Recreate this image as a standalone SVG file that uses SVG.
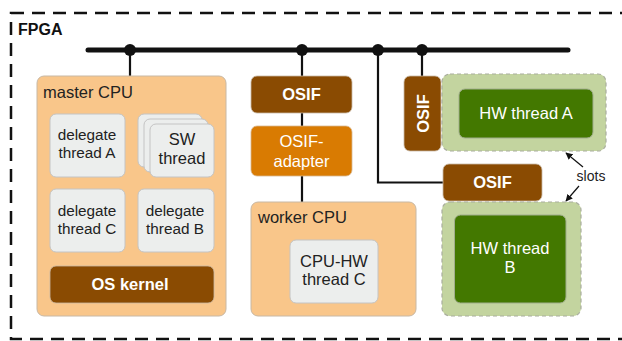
<svg xmlns="http://www.w3.org/2000/svg" width="622" height="341" viewBox="0 0 622 341">
<defs>
<style>
text{font-family:"Liberation Sans",Arial,sans-serif;}
.cpu{fill:#f9c68a;stroke:#c8b8a4;stroke-width:1;}
.lbl{font-size:16.5px;fill:#222;}
.thr{fill:#eceeed;stroke:#c4c4c4;stroke-width:1;}
.tt{font-size:15.3px;fill:#222;text-anchor:middle;}
.tb{font-size:16.5px;fill:#222;text-anchor:middle;}
.osif{fill:#8a4b02;stroke:#c8b8a4;stroke-width:0.8;}
.wb{font-size:16.5px;font-weight:bold;fill:#fff;text-anchor:middle;}
.slot{fill:#c3d49f;stroke:#a9ad9e;stroke-width:1.2;stroke-dasharray:4,3;}
.hw{fill:#437800;stroke:#a0ad8c;stroke-width:1;}
.wt{font-size:16.5px;fill:#fff;text-anchor:middle;}
.ln{stroke:#111;stroke-width:2.2;fill:none;}
</style>
<marker id="ah" viewBox="0 0 10 10" refX="9" refY="5" markerWidth="7" markerHeight="7" orient="auto-start-reverse" markerUnits="userSpaceOnUse">
<path d="M0,0 L10,5 L0,10 z" fill="#111"/>
</marker>
</defs>
<rect width="622" height="341" fill="#fff"/>
<g id="fpga">
<rect x="11" y="13" width="630" height="326" fill="none" stroke="#111" stroke-width="2.5" stroke-dasharray="13,8"/>
<text x="18" y="35" font-size="16" font-weight="bold" fill="#111">FPGA</text>
</g>
<g id="connectors">
<line x1="88" y1="50" x2="568" y2="50" stroke="#111" stroke-width="5" stroke-linecap="round"/>
<circle cx="130" cy="50" r="6" fill="#111"/>
<circle cx="302" cy="50" r="6" fill="#111"/>
<circle cx="378" cy="50" r="6" fill="#111"/>
<circle cx="422" cy="50" r="6" fill="#111"/>
<line class="ln" x1="130" y1="50" x2="130" y2="76"/>
<line class="ln" x1="302" y1="50" x2="302" y2="76"/>
<line class="ln" x1="302" y1="113" x2="302" y2="126"/>
<line class="ln" x1="302" y1="176" x2="302" y2="202"/>
<line class="ln" x1="422" y1="50" x2="422" y2="76"/>
<polyline class="ln" points="378,50 378,182.5 443,182.5"/>
<line x1="583" y1="167" x2="566" y2="153" stroke="#111" stroke-width="1.2" marker-end="url(#ah)"/>
<line x1="579" y1="186" x2="566" y2="201" stroke="#111" stroke-width="1.2" marker-end="url(#ah)"/>
</g>
<g id="master-cpu">
<rect class="cpu" x="37" y="76" width="189" height="240" rx="7"/>
<text class="lbl" x="43" y="98">master CPU</text>
</g>
<g id="delegate-a">
<rect class="thr" x="50" y="114" width="75" height="63" rx="6"/>
<text class="tt" x="87" y="140">delegate</text>
<text class="tt" x="87" y="158">thread A</text>
</g>
<g id="sw-thread">
<rect class="thr" x="138" y="114" width="64" height="53" rx="6"/>
<rect class="thr" x="144" y="119" width="64" height="53" rx="6"/>
<rect class="thr" x="150" y="124" width="64" height="53" rx="6"/>
<text class="tb" x="182" y="145">SW</text>
<text class="tb" x="182" y="164">thread</text>
</g>
<g id="delegate-c">
<rect class="thr" x="50" y="189" width="75" height="63" rx="6"/>
<text class="tt" x="87" y="216">delegate</text>
<text class="tt" x="87" y="234">thread C</text>
</g>
<g id="delegate-b">
<rect class="thr" x="138" y="189" width="76" height="63" rx="6"/>
<text class="tt" x="175" y="216">delegate</text>
<text class="tt" x="175" y="234">thread B</text>
</g>
<g id="os-kernel">
<rect class="osif" x="50" y="266" width="164" height="37" rx="6"/>
<text class="wb" x="130" y="290">OS kernel</text>
</g>
<g id="osif-top">
<rect class="osif" x="251" y="76" width="101" height="37" rx="6"/>
<text class="wb" x="301.5" y="100">OSIF</text>
</g>
<g id="osif-adapter">
<rect x="251" y="126" width="101" height="50" rx="6" fill="#d97b02" stroke="#d8b890" stroke-width="0.8"/>
<text class="wt" x="301.5" y="147">OSIF-</text>
<text class="wt" x="301.5" y="167">adapter</text>
</g>
<g id="worker-cpu">
<rect class="cpu" x="251" y="202" width="165" height="114" rx="7"/>
<text class="lbl" x="258" y="223">worker CPU</text>
</g>
<g id="cpu-hw-thread-c">
<rect class="thr" x="290" y="240" width="88" height="63" rx="6"/>
<text class="tb" x="334" y="267">CPU-HW</text>
<text class="tb" x="334" y="285">thread C</text>
</g>
<g id="osif-a">
<rect class="osif" x="404" y="76" width="37" height="75" rx="6"/>
<text class="wb" transform="translate(428.5,113.5) rotate(-90)" x="0" y="0">OSIF</text>
</g>
<g id="slot-a">
<rect class="slot" x="442" y="74" width="164" height="77" rx="8"/>
<rect class="hw" x="459" y="89" width="134" height="49" rx="6"/>
<text class="wt" x="526" y="119">HW thread A</text>
</g>
<g id="osif-b">
<rect class="osif" x="443" y="164" width="99" height="37" rx="6"/>
<text class="wb" x="492.5" y="188">OSIF</text>
</g>
<g id="slot-b">
<rect class="slot" x="442" y="202" width="139" height="114" rx="8"/>
<rect class="hw" x="454.5" y="215" width="111.5" height="88" rx="6"/>
<text class="wt" x="510" y="254">HW thread</text>
<text class="wt" x="510" y="273">B</text>
</g>
<g id="slots-label">
<text x="591" y="181" font-size="14" fill="#222" text-anchor="middle">slots</text>
</g>
</svg>
